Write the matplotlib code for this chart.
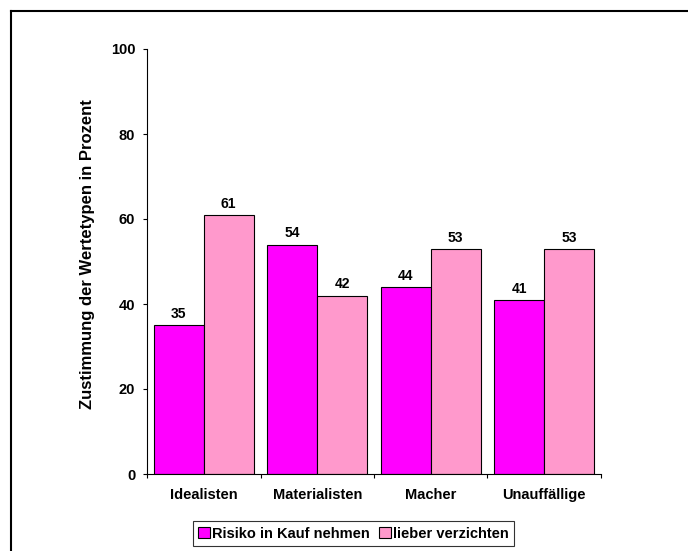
import numpy as np
import matplotlib.pyplot as plt
from matplotlib.lines import Line2D

plt.rcParams['font.family'] = ['Liberation Sans', 'DejaVu Sans']
plt.rcParams['font.weight'] = 'bold'

categories = ['Idealisten', 'Materialisten', 'Macher', 'Unauffällige']
risiko = [35, 54, 44, 41]
verzichten = [61, 42, 53, 53]
series_names = ['Risiko in Kauf nehmen', 'lieber verzichten']

W, H = 688, 551
fig = plt.figure(figsize=(W / 100, H / 100), dpi=100)
ax = fig.add_axes([147 / W, 1 - 474 / H, 454 / W, 425 / H])

x = np.arange(len(categories))
w = 0.44
b1 = ax.bar(x - w / 2, risiko, w, color='#FF00FF', edgecolor='black', linewidth=0.8,
            label=series_names[0])
b2 = ax.bar(x + w / 2, verzichten, w, color='#FF99CC', edgecolor='black', linewidth=0.8,
            label=series_names[1])
for bars in (b1, b2):
    ax.bar_label(bars, padding=3, fontsize=10, fontweight='bold')

ax.set_xlim(-0.5, len(categories) - 0.5)
ax.set_ylim(0, 100)
ax.set_yticks(range(0, 101, 20))
ax.set_xticks(x)
ax.set_xticklabels(categories, fontsize=10.5, fontweight='bold')
ax.tick_params(axis='y', labelsize=10.5, length=3, width=0.8, pad=5.5, direction='out')
# category boundaries carry the x ticks in the original
ax.set_xticks(np.arange(len(categories) + 1) - 0.5, minor=True)
ax.tick_params(axis='x', which='major', length=0, pad=10)
ax.tick_params(axis='x', which='minor', length=3, width=0.8, direction='out')
ax.spines['top'].set_visible(False)
ax.spines['right'].set_visible(False)
ax.spines['left'].set_linewidth(0.8)
ax.spines['bottom'].set_linewidth(0.8)

fig.text(88 / W, 1 - 254 / H, 'Zustimmung der Wertetypen in Prozent', rotation=90,
         ha='center', va='center', fontsize=12, fontweight='bold')

leg = fig.legend(handles=[b1, b2], loc='center', bbox_to_anchor=(353.5 / W, 1 - 533.5 / H),
                 ncol=2, fontsize=10.5, frameon=True, fancybox=False, edgecolor='black',
                 handlelength=0.82, handleheight=0.82, handletextpad=0.15, columnspacing=0.6,
                 borderpad=0.35, borderaxespad=0)
leg.get_frame().set_linewidth(0.8)

# outer border (top and left only are visible in the original)
fig.add_artist(Line2D([11 / W, 1], [1 - 11 / H, 1 - 11 / H], color='black', linewidth=1.5,
                      transform=fig.transFigure))
fig.add_artist(Line2D([11 / W, 11 / W], [0, 1 - 11 / H], color='black', linewidth=1.5,
                      transform=fig.transFigure))

fig.savefig('out.png', dpi=100)
